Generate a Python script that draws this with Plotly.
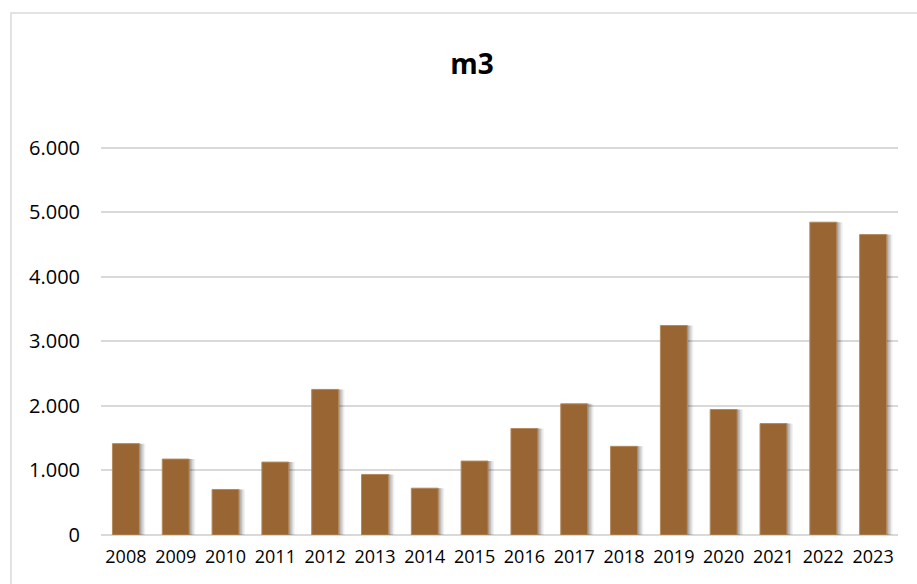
import plotly.graph_objects as go

years = ["2008", "2009", "2010", "2011", "2012", "2013", "2014", "2015",
         "2016", "2017", "2018", "2019", "2020", "2021", "2022", "2023"]
values = [1415, 1176, 705, 1129, 2255, 938, 725, 1145,
          1649, 2031, 1373, 3245, 1944, 1726, 4845, 4653]
title_text = "m3"

BAR_COLOR = "#996633"
W = 0.54

fig = go.Figure()
# soft shadow layers
for dx, alpha in [(0.12, 0.06), (0.09, 0.09), (0.06, 0.12), (0.03, 0.12)]:
    fig.add_trace(go.Bar(
        x=years, y=values, width=W, offset=-W / 2 + dx,
        marker=dict(color=f"rgba(0,0,0,{alpha})", line=dict(width=0)),
        hoverinfo="skip", showlegend=False,
    ))
fig.add_trace(go.Bar(
    x=years, y=values, width=W, offset=-W / 2,
    marker=dict(color=BAR_COLOR, line=dict(color="#b58a5e", width=1)),
    showlegend=False,
))

fig.update_layout(
    width=917, height=584,
    margin=dict(l=101, r=19, t=146, b=49),
    paper_bgcolor="white", plot_bgcolor="white",
    barmode="overlay",
    separators=",.",
    font=dict(family="Open Sans, Liberation Sans, sans-serif", size=18, color="#000000"),
    title=dict(text=f"<b>{title_text}</b>", x=(472 - 101) / 797, xref="paper", xanchor="center",
               y=1 - 64 / 584, yanchor="middle", yref="container",
               font=dict(size=28, color="#000000")),
    xaxis=dict(showgrid=False, showline=False, ticks="outside", ticklen=5,
               tickcolor="rgba(0,0,0,0)", tickfont=dict(size=18),
               range=[-0.5, 15.5]),
    yaxis=dict(range=[0, 6025], tickvals=[0, 1000, 2000, 3000, 4000, 5000, 6000],
               tickformat=",d", showgrid=True,
               gridcolor="#d9d9d9", gridwidth=1.5, zeroline=True, zerolinecolor="#d9d9d9",
               zerolinewidth=1.5, showline=False, ticks="outside", ticklen=16,
               tickcolor="rgba(0,0,0,0)", tickfont=dict(size=20)),
    shapes=[dict(type="rect", xref="paper", yref="paper",
                 x0=-90 / 797, x1=1.1, y0=-0.2, y1=1 + (146 - 13) / 389,
                 line=dict(color="#d9d9d9", width=1.5), layer="below")],
)

fig.write_html("out.html")
